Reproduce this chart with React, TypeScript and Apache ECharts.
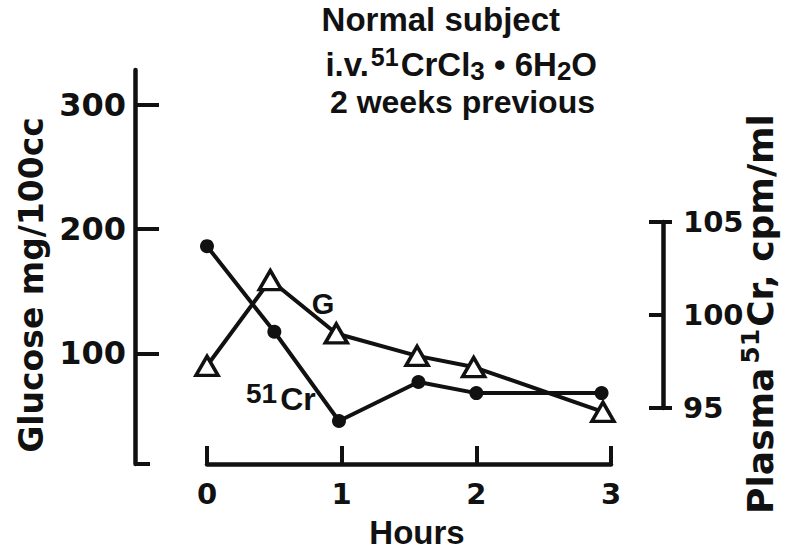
import React, { useEffect, useRef } from 'react';
import * as echarts from 'echarts';

// ---- data ----
const hoursG = [0, 0.47, 0.96, 1.56, 1.98, 2.94];
const glucose = [90, 159, 116, 98, 89, 53];
const hoursCr = [0, 0.5, 0.98, 1.57, 2.0, 2.93];
const plasmaCr = [103.7, 99.1, 94.3, 96.4, 95.8, 95.8];

const hourTicks = [0, 1, 2, 3];
const glucoseTicks = [100, 200, 300];
const crTicks = [95, 100, 105];

const INK = '#111';
const NUM_FONT = 'DejaVu Sans';
const WORD_FONT = 'Liberation Sans';

export default function App() {
  const ref = useRef<HTMLDivElement>(null);

  useEffect(() => {
    if (!ref.current) return;
    const chart = echarts.init(ref.current, null, { renderer: 'svg' });
    const axisLine = { show: true, onZero: false, lineStyle: { color: INK, width: 4.5 } };
    const tickStyle = { color: INK, width: 4 };
    const numLabel = { color: INK, fontFamily: NUM_FONT, fontWeight: 'bold' };

    const option: any = {
      animation: false,
      backgroundColor: '#fff',
      grid: [
        { left: 207, right: 174, top: 70, bottom: 88 },
        { left: 207, right: 174, top: 222, bottom: 146 },
      ],
      xAxis: [
        {
          type: 'value', gridIndex: 0, min: hourTicks[0], max: hourTicks[hourTicks.length - 1], interval: 1,
          axisLine,
          axisTick: { show: true, inside: true, length: 18, lineStyle: tickStyle },
          axisLabel: { ...numLabel, margin: 15, fontSize: 29 },
          splitLine: { show: false },
          name: 'Hours', nameLocation: 'middle', nameGap: 52,
          nameTextStyle: { fontFamily: WORD_FONT, fontWeight: 'bold', fontSize: 33, color: INK, padding: [0, 0, 0, 16] },
        },
        { type: 'value', gridIndex: 1, min: 0, max: 3, show: false },
      ],
      yAxis: [
        {
          type: 'value', gridIndex: 0, position: 'left', offset: 72, min: 11, max: 328,
          axisLine,
          axisTick: { show: true, inside: true, length: 24, customValues: glucoseTicks, lineStyle: tickStyle },
          axisLabel: { ...numLabel, show: true, customValues: glucoseTicks, margin: 9, fontSize: 32 },
          splitLine: { show: false },
        },
        {
          type: 'value', gridIndex: 0, position: 'left', offset: 72, min: 11, max: 328,
          axisLine: { show: false, onZero: false },
          axisTick: { show: true, inside: true, length: 15, customValues: [11], lineStyle: tickStyle },
          axisLabel: { show: false },
          splitLine: { show: false },
        },
        {
          type: 'value', gridIndex: 1, position: 'right', offset: 52, min: crTicks[0], max: crTicks[crTicks.length - 1], interval: 5,
          axisLine,
          axisTick: { show: true, inside: true, length: 14, lineStyle: tickStyle },
          axisLabel: { ...numLabel, show: true, margin: 20, fontSize: 29 },
          splitLine: { show: false },
        },
        {
          type: 'value', gridIndex: 1, position: 'right', offset: 52, min: 95, max: 105,
          axisLine: { show: false, onZero: false },
          axisTick: { show: true, inside: false, length: 9, customValues: [95, 105], lineStyle: tickStyle },
          axisLabel: { show: false },
          splitLine: { show: false },
        },
      ],
      series: [
        {
          name: 'G', type: 'line', xAxisIndex: 0, yAxisIndex: 0, clip: false, z: 4,
          data: hoursG.map((h, i) => [h, glucose[i]]),
          symbol: 'triangle', symbolSize: [22, 19],
          itemStyle: { color: '#fff', borderColor: INK, borderWidth: 3.5 },
          lineStyle: { color: INK, width: 4 },
        },
        {
          name: '51Cr', type: 'line', xAxisIndex: 1, yAxisIndex: 2, clip: false, z: 3,
          data: hoursCr.map((h, i) => [h, plasmaCr[i]]),
          symbol: 'circle', symbolSize: 14,
          itemStyle: { color: INK },
          lineStyle: { color: INK, width: 4 },
        },
      ],
      graphic: [
        {
          type: 'text', x: 560, y: 19,
          style: { text: 'Normal subject', fill: INK, fontFamily: WORD_FONT, fontWeight: 'bold', fontSize: 33, align: 'right', verticalAlign: 'middle' },
        },
        {
          type: 'text', x: 597, y: 64,
          style: {
            text: 'i.v.{sup|51}CrCl{sub|3} • 6H{sub|2}O',
            fill: INK, fontFamily: WORD_FONT, fontWeight: 'bold', fontSize: 33, lineHeight: 40,
            align: 'right', verticalAlign: 'middle',
            rich: {
              sup: { fontFamily: WORD_FONT, fontWeight: 'bold', fontSize: 25, lineHeight: 26, verticalAlign: 'top', fill: INK, padding: [0, 2, 0, 2] },
              sub: { fontFamily: WORD_FONT, fontWeight: 'bold', fontSize: 26, lineHeight: 18, verticalAlign: 'bottom', fill: INK },
            },
          },
        },
        {
          type: 'text', x: 595, y: 102,
          style: { text: '2 weeks previous', fill: INK, fontFamily: WORD_FONT, fontWeight: 'bold', fontSize: 32, align: 'right', verticalAlign: 'middle' },
        },
        {
          type: 'text', x: 323, y: 304,
          style: { text: 'G', fill: INK, fontFamily: WORD_FONT, fontWeight: 'bold', fontSize: 29, align: 'center', verticalAlign: 'middle' },
        },
        {
          type: 'text', x: 246, y: 399,
          style: {
            text: '{sup|51}Cr', fill: INK, fontFamily: WORD_FONT, fontWeight: 'bold', fontSize: 32, lineHeight: 40,
            align: 'left', verticalAlign: 'middle',
            rich: { sup: { fontFamily: WORD_FONT, fontWeight: 'bold', fontSize: 28, lineHeight: 19, verticalAlign: 'top', fill: INK, padding: [0, 3, 0, 0] } },
          },
        },
        {
          type: 'text', x: 31, y: 285, rotation: Math.PI / 2,
          style: { text: 'Glucose mg/100cc', fill: INK, fontFamily: NUM_FONT, fontWeight: 'bold', fontSize: 33, align: 'center', verticalAlign: 'middle' },
        },
        {
          type: 'text', x: 760, y: 314, rotation: Math.PI / 2,
          style: {
            text: 'Plasma{sup|51}Cr, cpm/ml', fill: INK, fontFamily: NUM_FONT, fontWeight: 'bold', fontSize: 36, lineHeight: 44,
            align: 'center', verticalAlign: 'middle',
            rich: { sup: { fontFamily: NUM_FONT, fontWeight: 'bold', fontSize: 25, lineHeight: 23, verticalAlign: 'top', fill: INK, padding: [0, 2, 0, 4] } },
          },
        },
      ],
    };

    chart.setOption(option);
    return () => chart.dispose();
  }, []);

  return <div ref={ref} style={{ position: 'fixed', left: 0, top: 0, width: 785, height: 554 }} />;
}
